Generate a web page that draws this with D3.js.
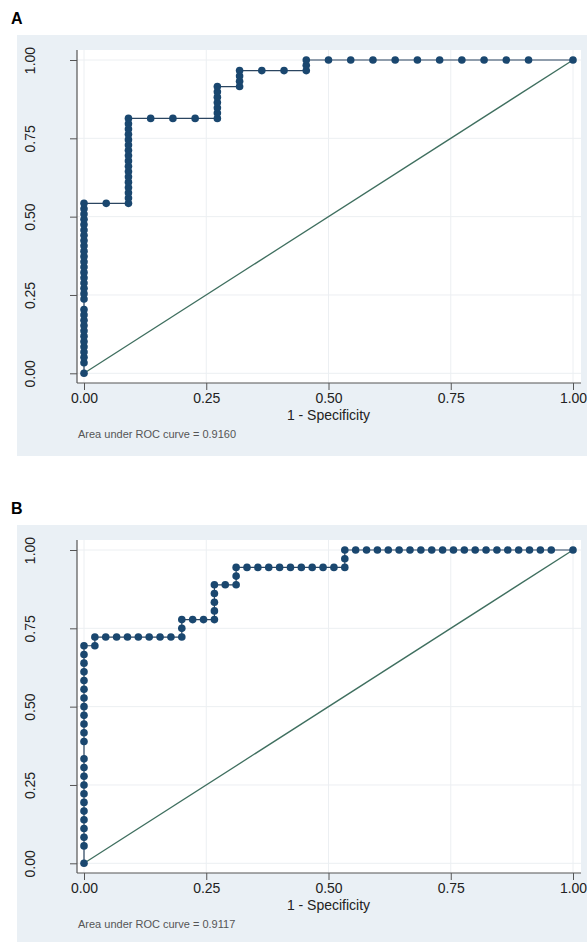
<!DOCTYPE html>
<html>
<head>
<meta charset="utf-8">
<script src="https://cdn.jsdelivr.net/npm/d3@7"></script>
<style>
  body { margin: 0; background: #fff; }
  text { font-family: "Liberation Sans", Arial, sans-serif; }
</style>
</head>
<body>
<div id="chart"></div>
<script>
// ROC points: false positives / true positives (counts)
const nNegA = 22, nPosA = 59;
const fpA = [0,0,0,0,0,0,0,0,0,0,0,0,0,0,0,0,0,0,0,0,0,0,0,0,0,0,0,0,0,0,0,
  1,
  2,2,2,2,2,2,2,2,2,2,2,2,2,2,2,2,2,
  3,4,5,
  6,6,6,6,6,6,6,
  7,7,7,7,
  8,9,
  10,10,10,
  11,12,13,14,15,16,17,18,19,20,
  22];
const tpA = [0,2,3,4,5,6,7,8,9,10,11,12,14,15,16,17,18,19,20,21,22,23,24,25,26,27,28,29,30,31,32,
  32,
  32,33,34,35,36,37,38,39,40,41,42,43,44,45,46,47,48,
  48,48,48,
  48,49,50,51,52,53,54,
  54,55,56,57,
  57,57,
  57,58,59,
  59,59,59,59,59,59,59,59,59,59,
  59];

const nNegB = 45, nPosB = 36;
const fpB = [0,0,0,0,0,0,0,0,0,0,0,0,0,0,0,0,0,0,0,0,0,0,0,0,
  1,1,
  2,3,4,5,6,7,8,9,
  9,9,
  10,11,12,
  12,12,12,12,
  13,14,
  14,14,
  15,16,17,18,19,20,21,22,23,24,
  24,24,
  25,26,27,28,29,30,31,32,33,34,35,36,37,38,39,40,41,42,43,
  45];
const tpB = [0,2,3,4,5,6,7,8,9,10,11,12,14,15,16,17,18,19,20,21,22,23,24,25,
  25,26,
  26,26,26,26,26,26,26,26,
  27,28,
  28,28,28,
  29,30,31,32,
  32,32,
  33,34,
  34,34,34,34,34,34,34,34,34,34,
  35,36,
  36,36,36,36,36,36,36,36,36,36,36,36,36,36,36,36,36,36,36,
  36];

const panelLabels = ["A", "B"];
const aucText = ["Area under ROC curve = 0.9160", "Area under ROC curve = 0.9117"];
const tickVals = [0, 0.25, 0.5, 0.75, 1];
const xTitle = "1 - Specificity";

const W = 587, H = 942;
const svg = d3.select("#chart").append("svg")
    .attr("width", W)
    .attr("height", H);

const navy = "#1a476f";

function drawPanel(top, label, fp, tp, nNeg, nPos, note, bgBottom) {
    const g = svg.append("g").attr("transform", `translate(0,${top})`);

    // panel label
    g.append("text")
        .attr("x", 11)
        .attr("y", 24)
        .style("font-size", "16px")
        .style("font-weight", "bold")
        .text(label);

    // graph region
    g.append("rect")
        .attr("x", 17).attr("y", 35)
        .attr("width", W - 17).attr("height", bgBottom - 35)
        .attr("fill", "#eaf0f5");

    // plot region
    g.append("rect")
        .attr("x", 77).attr("y", 50)
        .attr("width", 581 - 77).attr("height", 383 - 50)
        .attr("fill", "#fff");

    const x = d3.scaleLinear().domain([0, 1]).range([84, 573]);
    const y = d3.scaleLinear().domain([0, 1]).range([373.3, 60]);

    // grid
    g.append("g").selectAll("line").data(tickVals).join("line")
        .attr("x1", d => x(d)).attr("x2", d => x(d))
        .attr("y1", 50).attr("y2", 383)
        .attr("stroke", "#eceff2").attr("stroke-width", 1);
    g.append("g").selectAll("line").data(tickVals).join("line")
        .attr("y1", d => y(d)).attr("y2", d => y(d))
        .attr("x1", 77).attr("x2", 581)
        .attr("stroke", "#eceff2").attr("stroke-width", 1);

    // axes
    const xAxis = g.append("g")
        .attr("transform", "translate(0,383)")
        .call(d3.axisBottom(x).tickValues(tickVals).tickFormat(d3.format(".2f"))
            .tickSize(7).tickPadding(3));
    const yAxis = g.append("g")
        .attr("transform", "translate(77,0)")
        .call(d3.axisLeft(y).tickValues(tickVals).tickFormat(d3.format(".2f"))
            .tickSize(7));
    [xAxis, yAxis].forEach(a => {
        a.select(".domain").remove();
        a.selectAll(".tick line").attr("stroke", "#555");
        a.selectAll(".tick text")
            .attr("fill", "#222")
            .style("font-size", "14px")
            .style("font-family", "'Liberation Sans', Arial, sans-serif");
    });
    yAxis.selectAll(".tick text")
        .attr("transform", "rotate(-90)")
        .attr("x", 0)
        .attr("y", -47)
        .attr("dy", "0.35em")
        .attr("text-anchor", "middle");

    g.append("line")
        .attr("x1", 77).attr("x2", 77).attr("y1", 50).attr("y2", 383)
        .attr("stroke", "#555").attr("stroke-width", 1.2);
    g.append("line")
        .attr("x1", 77).attr("x2", 581).attr("y1", 383).attr("y2", 383)
        .attr("stroke", "#555").attr("stroke-width", 1.2);

    // reference diagonal
    g.append("line")
        .attr("x1", x(0)).attr("y1", y(0))
        .attr("x2", x(1)).attr("y2", y(1))
        .attr("stroke", "#3f6f5f")
        .attr("stroke-width", 1.3);

    // ROC curve
    const pts = fp.map((d, i) => ({fpr: d / nNeg, tpr: tp[i] / nPos}));
    const line = d3.line()
        .x(d => x(d.fpr))
        .y(d => y(d.tpr));
    g.append("path")
        .datum(pts)
        .attr("fill", "none")
        .attr("stroke", "#2b4560")
        .attr("stroke-width", 1.2)
        .attr("d", line);
    g.append("g").selectAll("circle").data(pts).join("circle")
        .attr("cx", d => x(d.fpr))
        .attr("cy", d => y(d.tpr))
        .attr("r", 3.8)
        .attr("fill", navy);

    // titles
    g.append("text")
        .attr("x", x(0.5))
        .attr("y", 420)
        .attr("text-anchor", "middle")
        .attr("fill", "#222")
        .style("font-size", "14px")
        .text(xTitle);

    g.append("text")
        .attr("x", 78)
        .attr("y", 438)
        .attr("fill", "#555")
        .style("font-size", "11px")
        .text(note);
}

drawPanel(0, panelLabels[0], fpA, tpA, nNegA, nPosA, aucText[0], 456);
drawPanel(490, panelLabels[1], fpB, tpB, nNegB, nPosB, aucText[1], 452);
</script>
</body>
</html>
